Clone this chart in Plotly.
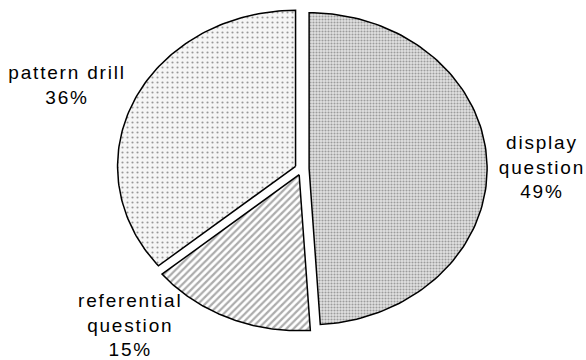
import numpy as np
import plotly.graph_objects as go

# Slice data, clockwise from 12 o'clock
categories = ["display question", "referential question", "pattern drill"]
label_text = ["display<br>question", "referential<br>question", "pattern drill"]
values = [49, 15, 36]

# Ellipse geometry (axis units match page pixels)
CX, CY = 302.0, 169.0
RX, RY = 178.0, 156.0
PULL = 0.04

# Fill patterns per slice
patterns = [
    dict(shape=".", fgcolor="#555555", bgcolor="#e2e2e2", size=3, solidity=0.4),
    dict(shape="/", fgcolor="#5a5a5a", bgcolor="#ffffff", size=5, solidity=0.45),
    dict(shape=".", fgcolor="#3a3a3a", bgcolor="#f6f6f6", size=5, solidity=0.14),
]

# Label anchor positions (x centre, y middle)
label_pos = [(542, 167), (130, 325), (67, 85)]

fig = go.Figure()
total = float(sum(values))
start = 0.0
for i, v in enumerate(values):
    a0 = start / total * 2 * np.pi
    a1 = (start + v) / total * 2 * np.pi
    start += v
    mid = (a0 + a1) / 2
    ox = CX + PULL * RX * np.sin(mid)
    oy = CY - PULL * RY * np.cos(mid)
    t = np.linspace(a0, a1, 120)
    xs = np.concatenate([[ox], ox + RX * np.sin(t), [ox]])
    ys = np.concatenate([[oy], oy - RY * np.cos(t), [oy]])
    p = patterns[i]
    fig.add_trace(go.Scatter(
        x=xs, y=ys, mode="lines", fill="toself",
        fillcolor=p["bgcolor"], fillpattern=p,
        line=dict(color="#000000", width=1.5),
        name=categories[i], hoverinfo="skip", showlegend=False,
    ))
    lx, ly = label_pos[i]
    pct = round(v / total * 100)
    fig.add_annotation(
        x=lx, y=ly, xref="x", yref="y", xanchor="center", yanchor="middle",
        text=f"{label_text[i]}<br>{pct}%", showarrow=False, align="center",
        font=dict(family="Liberation Sans, Arial, sans-serif", size=19, color="#000000"),
    )

fig.update_layout(
    width=586, height=360,
    margin=dict(l=0, r=0, t=0, b=0),
    paper_bgcolor="white", plot_bgcolor="white",
    xaxis=dict(range=[0, 586], visible=False, fixedrange=True),
    yaxis=dict(range=[360, 0], visible=False, fixedrange=True),
    showlegend=False,
)

fig.write_html(
    "out.html",
    config={"displayModeBar": False},
    post_script="var s=document.createElement('style');"
                "s.textContent='.annotation-text{letter-spacing:1.8px}';"
                "document.head.appendChild(s);",
)
